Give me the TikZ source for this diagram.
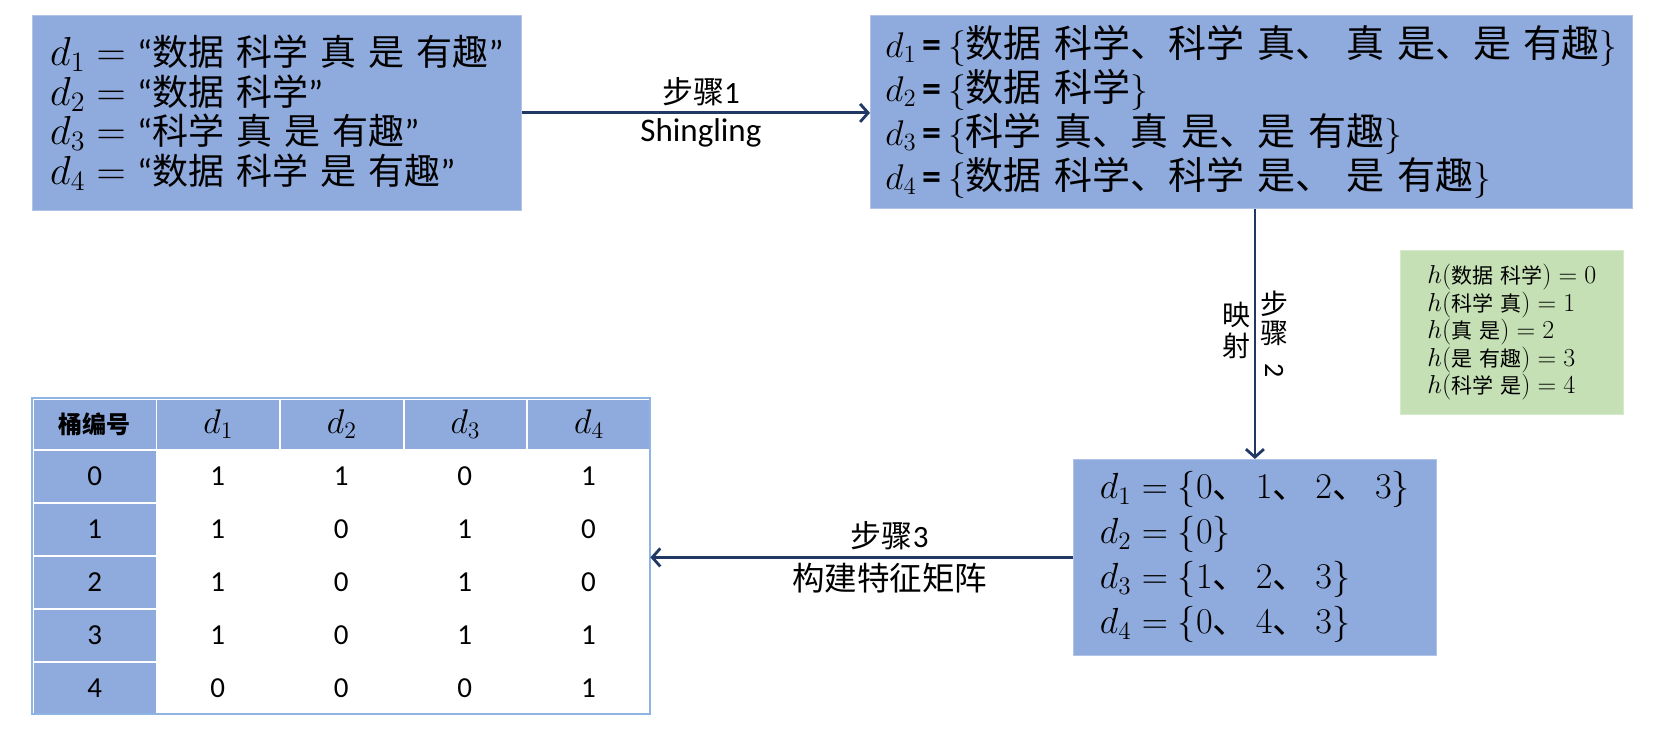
\RequirePackage{fix-cm}
\documentclass[tikz,border=0pt]{standalone}
\usepackage[no-math]{fontspec}
\usepackage{graphicx}
\setmainfont{Carlito}
\newfontfamily\cjk[WordSpace=1.5]{Noto Sans CJK SC}
\usetikzlibrary{positioning,arrows.meta,calc}
\definecolor{boxblue}{HTML}{8FAADC}
\definecolor{hashgreen}{HTML}{C5E0B4}
\definecolor{flowblue}{HTML}{203864}
\definecolor{gridblue}{HTML}{8DB4E2}
% math is set at 20.74pt and scaled up to the size of each box
\newcommand\mscale{1}
\newcommand\mth[1]{\scalebox{\mscale}{\fontsize{20.74}{25}\selectfont$#1$}}
\newcommand\dun{{\cjk 、}\hspace{7pt}}
\tikzset{
  mscale/.code={\def\mscale{#1}},
  docbox/.style={fill=boxblue, draw=boxblue!70!white, line width=0.8pt, anchor=north west,
    align=left, inner xsep=15pt, inner ysep=0pt},
  hashbox/.style={fill=hashgreen, draw=hashgreen!70!white, line width=0.8pt, anchor=north west,
    align=left, inner xsep=14pt, inner ysep=0pt, font=\fontsize{21}{27.5}\selectfont},
  flow/.style={draw=flowblue, line width=2.8pt, -{Straight Barb[length=8pt,width=18pt]}},
  steplabel/.style={font=\fontsize{31}{33}\selectfont, inner sep=2pt, align=center},
  headcell/.style={fill=boxblue, draw=white, line width=1.8pt, anchor=north west,
    minimum width=123.6pt, minimum height=51pt, inner sep=0pt, mscale=1.65},
  keycell/.style={fill=boxblue, draw=white, line width=1.8pt, anchor=north west,
    minimum width=123.6pt, minimum height=53pt, inner sep=0pt, font=\fontsize{29}{30}\selectfont},
  valcell/.style={anchor=north west, minimum width=123.6pt, minimum height=53pt,
    inner sep=0pt, font=\fontsize{29}{30}\selectfont}
}

\begin{document}
\begin{tikzpicture}[x=1pt,y=-1pt]
  \useasboundingbox (0,0) rectangle (1653,735);

  % documents
  \node[docbox, minimum width=489pt, minimum height=195pt, mscale=1.95, font=\fontsize{36}{39.5}\selectfont] (docs) at (32,15)
    {\mth{d_1={}}“{\cjk 数据 科学 真 是 有趣}”\\
     \mth{d_2={}}“{\cjk 数据 科学}”\\
     \mth{d_3={}}“{\cjk 科学 真 是 有趣}”\\
     \mth{d_4={}}“{\cjk 数据 科学 是 有趣}”};

  % shingles
  \node[docbox, minimum width=751pt, minimum height=193pt, mscale=1.72, font=\fontsize{38}{44}\selectfont] (shingles) at (870,15)
    {\mth{d_1}\,\textbf{=}\,\mth{\{}{\cjk 数据 科学、科学 真、 真 是、是 有趣}\mth{\}}\\
     \mth{d_2}\,\textbf{=}\,\mth{\{}{\cjk 数据 科学}\mth{\}}\\
     \mth{d_3}\,\textbf{=}\,\mth{\{}{\cjk 科学 真、真 是、是 有趣}\mth{\}}\\
     \mth{d_4}\,\textbf{=}\,\mth{\{}{\cjk 数据 科学、科学 是、 是 有趣}\mth{\}}};

  % hash values
  \node[hashbox, minimum width=223pt, minimum height=164pt, mscale=1.25] (hashes) at (1400,250)
    {\mth{h(}{\cjk 数据 科学}\mth{)=0}\\
     \mth{h(}{\cjk 科学 真}\mth{)=1}\\
     \mth{h(}{\cjk 真 是}\mth{)=2}\\
     \mth{h(}{\cjk 是 有趣}\mth{)=3}\\
     \mth{h(}{\cjk 科学 是}\mth{)=4}};

  % bucket sets
  \node[docbox, minimum width=363pt, minimum height=196pt, mscale=1.75, font=\fontsize{36}{45}\selectfont] (buckets) at (1073,459)
    {\mth{d_1=\{0}\dun\mth{1}\dun \mth{2}\dun\mth{3\}}\\
     \mth{d_2=\{0\}}\\
     \mth{d_3=\{1}\dun\mth{2}\dun\mth{3\}}\\
     \mth{d_4=\{0}\dun\mth{4}\dun \mth{3\}}};

  % signature matrix
  \foreach \head [count=\col from 0] in {{\cjk\bfseries\fontsize{24}{26}\selectfont 桶编号},\mth{d_1},\mth{d_2},\mth{d_3},\mth{d_4}}
    \node[headcell] (h\col) at (32+123.6*\col,398) {\head};
  \foreach \vals [count=\bucket from 0] in {{1,1,0,1},{1,0,1,0},{1,0,1,0},{1,0,1,1},{0,0,0,1}} {
    \node[keycell] (k\bucket) at (32,449+53*\bucket) {\bucket};
    \foreach \v [count=\col] in \vals
      \node[valcell] (v\bucket\col) at (32+123.6*\col,449+53*\bucket) {\v};
  }
  \draw[gridblue, line width=2pt] (h0.north west) rectangle (v44.south east);

  % steps
  \draw[flow] (docs.east) -- (docs.east -| shingles.west)
    node[midway, above=4pt, xshift=5pt, steplabel] {{\cjk 步骤}1}
    node[midway, below=2pt, xshift=5pt, steplabel, font=\fontsize{33}{35}\selectfont] {Shingling};
  \draw[flow] (shingles.south -| buckets.north) -- (buckets.north)
    node[midway, left=1pt, inner sep=0pt, yshift=3pt, steplabel, font=\cjk\fontsize{28}{31}\selectfont] {映\\射}
    node[midway, right=2pt, yshift=0pt, steplabel, font=\fontsize{28}{29}\selectfont] {{\cjk 步}\\{\cjk 骤}\\[-9pt]\rotatebox{-90}{2}};
  \draw[flow] (buckets.west) -- (buckets.west -| v24.east)
    node[midway, above=4pt, xshift=28pt, steplabel] {{\cjk 步骤}3}
    node[midway, below=2pt, xshift=28pt, steplabel, font=\cjk\fontsize{32.5}{35}\selectfont] {构建特征矩阵};
\end{tikzpicture}
\end{document}
